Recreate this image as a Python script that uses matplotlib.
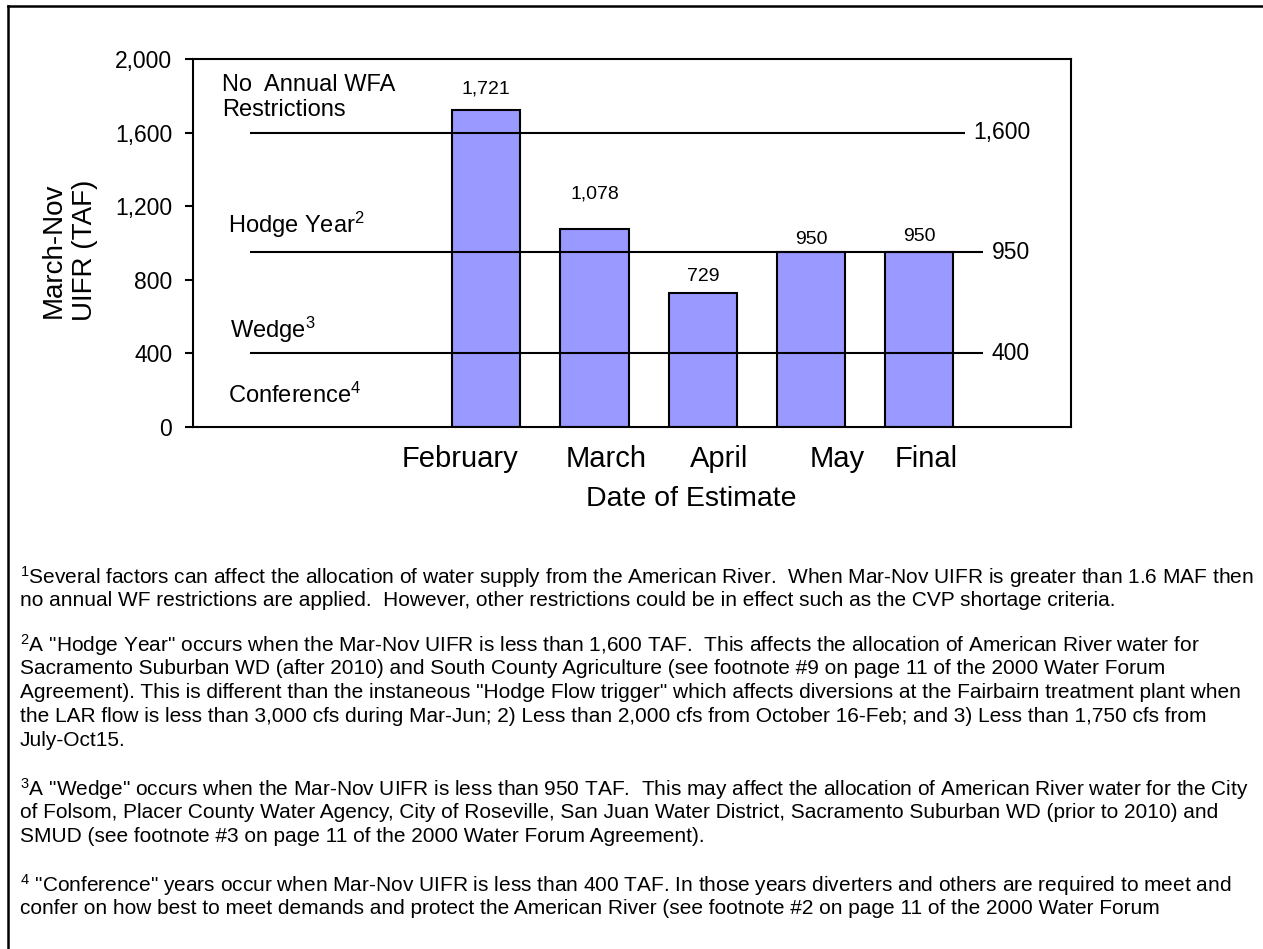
import numpy as np
import matplotlib.pyplot as plt
from matplotlib.lines import Line2D
from matplotlib.ticker import FuncFormatter
from matplotlib.transforms import ScaledTranslation

plt.rcParams['font.family'] = ['Liberation Sans', 'DejaVu Sans']
plt.rcParams['mathtext.fontset'] = 'custom'
plt.rcParams['mathtext.rm'] = 'Liberation Sans'
plt.rcParams['mathtext.it'] = 'Liberation Sans:italic'

# data
months = ['February', 'March', 'April', 'May', 'Final']
uifr = [1721, 1078, 729, 950, 950]
thresholds = [1600, 950, 400]
threshold_labels = ['1,600', '950', '400']
zone_names = ['No  Annual WFA\nRestrictions', 'Hodge Year$^2$', 'Wedge$^3$', 'Conference$^4$']
zone_y = [1791, 1098, 527, 174]

footnotes = [
    ['$^1$Several factors can affect the allocation of water supply from the American River.  When Mar-Nov UIFR is greater than 1.6 MAF then',
     'no annual WF restrictions are applied.  However, other restrictions could be in effect such as the CVP shortage criteria.'],
    ['$^2$A "Hodge Year" occurs when the Mar-Nov UIFR is less than 1,600 TAF.  This affects the allocation of American River water for',
     'Sacramento Suburban WD (after 2010) and South County Agriculture (see footnote #9 on page 11 of the 2000 Water Forum',
     'Agreement). This is different than the instaneous "Hodge Flow trigger" which affects diversions at the Fairbairn treatment plant when',
     'the LAR flow is less than 3,000 cfs during Mar-Jun; 2) Less than 2,000 cfs from October 16-Feb; and 3) Less than 1,750 cfs from',
     'July-Oct15.'],
    ['$^3$A "Wedge" occurs when the Mar-Nov UIFR is less than 950 TAF.  This may affect the allocation of American River water for the City',
     'of Folsom, Placer County Water Agency, City of Roseville, San Juan Water District, Sacramento Suburban WD (prior to 2010) and',
     'SMUD (see footnote #3 on page 11 of the 2000 Water Forum Agreement).'],
    ['$^4$ "Conference" years occur when Mar-Nov UIFR is less than 400 TAF. In those years diverters and others are required to meet and',
     'confer on how best to meet demands and protect the American River (see footnote #2 on page 11 of the 2000 Water Forum'],
]

W, H = 1263, 949
fig = plt.figure(figsize=(W / 100, H / 100), dpi=100)

# outer frame (only left and top edges fall inside the picture)
fig.add_artist(Line2D([8 / W, 8 / W], [0, 1 - 6 / H], color='black', lw=1.8))
fig.add_artist(Line2D([8 / W, 1], [1 - 6 / H, 1 - 6 / H], color='black', lw=1.8))

ax = fig.add_axes([193 / W, 1 - 427 / H, (1071 - 193) / W, (427 - 59) / H])
x = np.arange(len(months))
ax.bar(x, uifr, width=0.63, color='#9999FF', edgecolor='black', linewidth=1.5, zorder=2)

# value labels above bars
label_off = [9.5, 19, 5.5, 3, 5]
for xi, v, off in zip(x, uifr, label_off):
    ax.annotate(f'{v:,}', (xi, v), xytext=(0, off), textcoords='offset points',
                ha='center', va='bottom', fontsize=14)

# allocation thresholds
line_end = [4.42, 4.585, 4.585]
for t, lab, xe in zip(thresholds, threshold_labels, line_end):
    ax.hlines(t, -2.18, xe, color='black', lw=1.5, zorder=3)
    ax.text(xe + 0.08, t, lab, ha='left', va='center', fontsize=16.5)

zone_x = [-2.44, -2.385, -2.365, -2.385]
for name, zx, zy in zip(zone_names, zone_x, zone_y):
    ax.text(zx, zy, name, ha='left', va='center', fontsize=17, linespacing=1.15)

ax.set_xlim(-2.707, 5.40)
ax.set_ylim(0, 2000)
ax.set_yticks(np.arange(0, 2001, 400))
ax.yaxis.set_major_formatter(FuncFormatter(lambda v, p: f'{int(v):,}'))
ax.tick_params(axis='y', direction='out', length=6, width=1.5, labelsize=16.5, pad=9)
ax.set_xticks(x)
ax.set_xticklabels(months, fontsize=21)
ax.tick_params(axis='x', length=0, pad=13)
# the month names sit slightly off their bars in the original
for lbl, dx in zip(ax.get_xticklabels(), [-26, 12, 16, 26, 7]):
    lbl.set_transform(lbl.get_transform() + ScaledTranslation(dx / 100, 0, fig.dpi_scale_trans))
for s in ax.spines.values():
    s.set_linewidth(1.5)

ax.set_xlabel('Date of Estimate', fontsize=20.5)
ax.xaxis.set_label_coords(0.568, -0.161)
ax.text(-0.141, 0.481, 'March-Nov\nUIFR (TAF)', transform=ax.transAxes, rotation=90,
        ha='center', va='center', fontsize=20, linespacing=1.25)

# footnotes
para_top = [577, 645, 789, 885]
for lines, y0 in zip(footnotes, para_top):
    for i, line in enumerate(lines):
        fig.text(20 / W, 1 - (y0 + 24 * i) / H, line, ha='left', va='center', fontsize=15)

fig.savefig('out.png', dpi=100)
